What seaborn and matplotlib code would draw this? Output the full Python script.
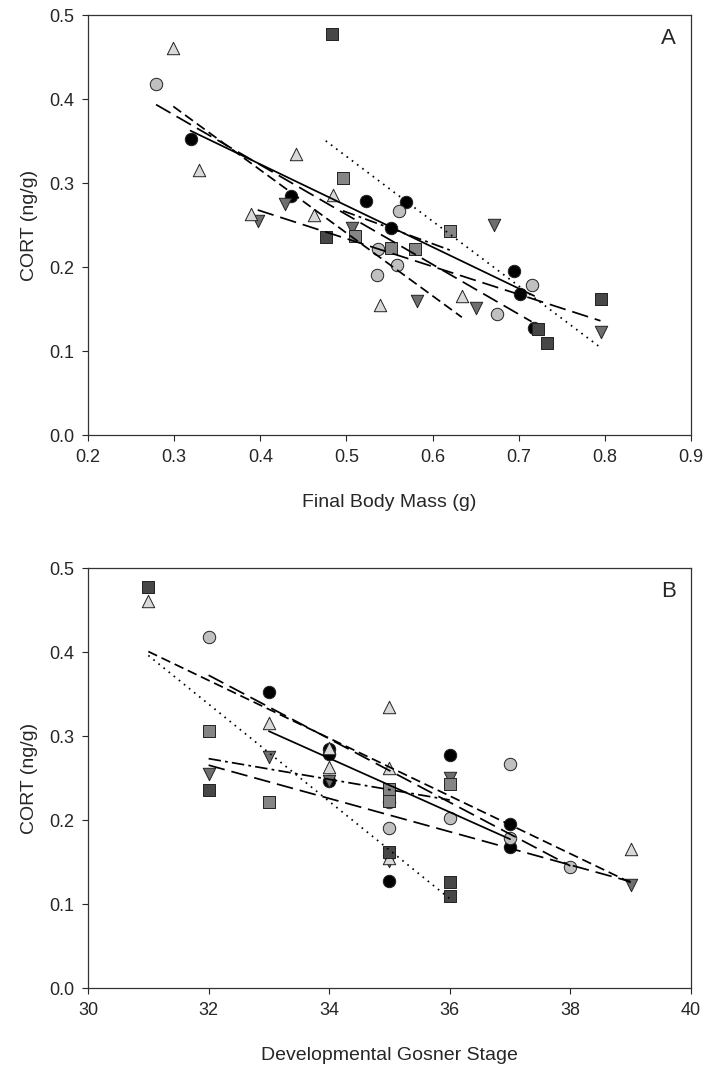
import matplotlib
matplotlib.use("Agg")
import matplotlib.pyplot as plt
import numpy as np
import pandas as pd
import seaborn as sns

## data, one group = one treatment (marker)
# black circles
blk_circ_mass = [0.319, 0.436, 0.523, 0.552, 0.569, 0.694, 0.702, 0.718]
blk_circ_stage = [33, 34, 34, 34, 36, 37, 37, 35]
blk_circ_cort = [0.353, 0.285, 0.279, 0.247, 0.277, 0.195, 0.168, 0.128]
# light grey circles
lt_circ_mass = [0.279, 0.535, 0.537, 0.559, 0.561, 0.675, 0.715]
lt_circ_stage = [32, 35, 35, 36, 37, 38, 37]
lt_circ_cort = [0.418, 0.190, 0.222, 0.203, 0.267, 0.144, 0.179]
# light triangles (up)
lt_tri_mass = [0.299, 0.329, 0.389, 0.441, 0.462, 0.484, 0.539, 0.634]
lt_tri_stage = [31, 33, 34, 35, 35, 34, 35, 39]
lt_tri_cort = [0.461, 0.315, 0.263, 0.334, 0.262, 0.286, 0.155, 0.166]
# dark triangles (down)
dk_tri_mass = [0.397, 0.429, 0.506, 0.582, 0.650, 0.671, 0.795]
dk_tri_stage = [32, 33, 34, 35, 35, 36, 39]
dk_tri_cort = [0.255, 0.275, 0.247, 0.160, 0.151, 0.250, 0.123]
# medium grey squares
md_sq_mass = [0.496, 0.510, 0.552, 0.580, 0.620]
md_sq_stage = [32, 35, 35, 33, 36]
md_sq_cort = [0.306, 0.237, 0.223, 0.221, 0.243]
# dark squares
dk_sq_mass = [0.483, 0.476, 0.723, 0.733, 0.795]
dk_sq_stage = [31, 32, 36, 36, 35]
dk_sq_cort = [0.478, 0.236, 0.126, 0.109, 0.162]

groups = ["blk_circ", "lt_circ", "dk_tri", "lt_tri", "md_sq", "dk_sq"]
data = {
    "blk_circ": (blk_circ_mass, blk_circ_stage, blk_circ_cort),
    "lt_circ": (lt_circ_mass, lt_circ_stage, lt_circ_cort),
    "lt_tri": (lt_tri_mass, lt_tri_stage, lt_tri_cort),
    "dk_tri": (dk_tri_mass, dk_tri_stage, dk_tri_cort),
    "md_sq": (md_sq_mass, md_sq_stage, md_sq_cort),
    "dk_sq": (dk_sq_mass, dk_sq_stage, dk_sq_cort),
}
rows = []
for g in groups:
    m, s, c = data[g]
    for i in range(len(m)):
        rows.append({"group": g, "mass": m[i], "stage": s[i], "cort": c[i]})
df = pd.DataFrame(rows)

## styles
colors = {"blk_circ": "#000000", "lt_circ": "#c0c0c0", "lt_tri": "#d9d9d9",
          "dk_tri": "#6e6e6e", "md_sq": "#858585", "dk_sq": "#474747"}
markers = {"blk_circ": "o", "lt_circ": "o", "lt_tri": "^",
           "dk_tri": "v", "md_sq": "s", "dk_sq": "s"}
lstyles = {"blk_circ": "-", "lt_circ": (0, (12, 5)), "lt_tri": (0, (7, 3.5)),
           "dk_tri": (0, (12, 5)), "md_sq": (0, (9, 3, 2, 3)), "dk_sq": (0, (1.2, 3.5))}

sns.set_theme(style="ticks")
plt.rcParams["font.family"] = ["Liberation Sans", "DejaVu Sans"]
plt.rcParams["lines.scale_dashes"] = False

fig = plt.figure(figsize=(7.11, 10.75), dpi=100)
axA = fig.add_axes([0.1238, 0.5953, 0.848, 0.3907])
axB = fig.add_axes([0.1238, 0.0809, 0.848, 0.3907])

def draw_panel(ax, xcol, xlabel, letter):
    for g in groups:
        sub = df[df["group"] == g]
        sns.scatterplot(data=sub, x=xcol, y="cort", marker=markers[g], color=colors[g],
                        s=80, edgecolor="#222222", linewidth=0.7, ax=ax, legend=False, zorder=3)
    #regression line per group
    for g in groups:
        sub = df[df["group"] == g]
        sns.regplot(data=sub, x=xcol, y="cort", scatter=False, ci=None, truncate=True, ax=ax,
                    line_kws=dict(color="black", linestyle=lstyles[g], lw=1.25, zorder=4))
    ax.set_ylim(0, 0.5)
    ax.set_yticks(np.arange(0, 0.51, 0.1))
    ax.set_yticklabels(["0.0", "0.1", "0.2", "0.3", "0.4", "0.5"])
    ax.set_xlabel(xlabel, fontsize=14, labelpad=20)
    ax.set_ylabel("CORT (ng/g)", fontsize=14, labelpad=8)
    ax.tick_params(direction="out", length=4, width=0.8, labelsize=13, pad=6)
    for sp in ax.spines.values():
        sp.set_color("#333333")
        sp.set_linewidth(0.9)
    ax.text(0.963, 0.943, letter, transform=ax.transAxes, ha="center", va="center", fontsize=16)

draw_panel(axA, "mass", "Final Body Mass (g)", "A")
axA.set_xlim(0.2, 0.9)
axA.set_xticks(np.arange(0.2, 0.91, 0.1))
axA.set_xticklabels(["0.2", "0.3", "0.4", "0.5", "0.6", "0.7", "0.8", "0.9"])

draw_panel(axB, "stage", "Developmental Gosner Stage", "B")
axB.set_xlim(30, 40)
axB.set_xticks([30, 32, 34, 36, 38, 40])

fig.savefig("out.png", dpi=100)
